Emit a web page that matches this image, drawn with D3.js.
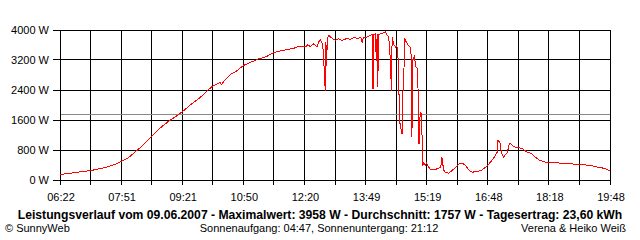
<!DOCTYPE html>
<html>
<head>
<meta charset="utf-8">
<script src="https://cdn.jsdelivr.net/npm/d3@7"></script>
<style>
  html, body { margin: 0; padding: 0; background: #fff; }
  svg { display: block; }
  text { font-family: "Liberation Sans", Arial, sans-serif; fill: #000; }
</style>
</head>
<body>
<svg id="chart" width="640" height="240"></svg>
<script>
const times = ["06:22","06:44","07:07","07:28","07:43","07:51","08:02","08:12","08:19","08:28","08:37","08:49","08:59","09:11","09:21","09:33","09:43","09:50","09:53","09:56","10:06","10:16","10:18","10:21","10:31","10:41","10:50","11:00","11:12","11:24","11:34","11:44","11:55","12:03","12:09","12:17","12:22","12:24","12:28","12:33","12:38","12:40","12:43","12:46","12:47","12:50","12:51","12:52","12:53","12:55","13:00","13:05","13:09","13:15","13:22","13:27","13:32","13:37","13:42","13:44","13:46","13:51","13:56","13:59","14:00","14:01","14:03","14:05","14:06","14:07","14:08","14:11","14:15","14:18","14:20","14:23","14:25","14:27","14:28","14:30","14:33","14:35","14:37","14:39","14:40","14:42","14:43","14:44","14:45","14:46","14:50","14:52","14:55","14:56","14:57","14:58","15:01","15:02","15:05","15:06","15:07","15:08","15:09","15:11","15:12","15:13","15:14","15:17","15:18","15:22","15:24","15:29","15:34","15:39","15:40","15:41","15:42","15:44","15:46","15:51","15:56","16:01","16:06","16:11","16:16","16:20","16:25","16:33","16:40","16:45","16:50","16:55","17:00","17:02","17:03","17:04","17:06","17:08","17:11","17:13","17:17","17:19","17:21","17:24","17:29","17:34","17:39","17:46","17:53","17:58","18:03","18:08","18:13","18:25","18:35","18:40","18:49","19:04","19:19","19:29","19:38","19:44","19:48"];
const watts = [160,213,267,347,440,507,613,773,880,1040,1200,1413,1560,1707,1840,2027,2160,2267,2310,2380,2530,2613,2560,2640,2827,2933,3067,3147,3240,3307,3405,3453,3493,3520,3560,3587,3560,3620,3573,3645,3555,3688,3760,3627,3467,2400,3680,3067,3787,3867,3795,3733,3780,3733,3795,3760,3822,3780,3822,3688,3813,3822,3867,3893,2445,3893,3907,3200,3907,2488,3893,3912,3933,3958,3893,3822,3333,2400,3822,3645,3555,3600,3200,1520,1520,1253,1253,2480,2480,3787,3653,3600,3547,3280,1147,3200,3333,3040,2987,2400,987,987,1813,1787,1067,400,480,400,480,347,293,285,312,355,461,621,453,267,221,195,267,355,445,461,400,285,221,240,285,355,445,552,693,755,1085,1040,1021,755,621,667,755,933,995,933,888,872,845,755,712,621,552,515,488,488,461,445,445,427,400,355,328,285,240];

const xTickLabels = ["06:22","07:51","09:21","10:50","12:20","13:49","15:19","16:48","18:18","19:48"];
const yTickValues = [0, 800, 1600, 2400, 3200, 4000];
const averageWatts = 1757;
const titleText = "Leistungsverlauf vom 09.06.2007 - Maximalwert: 3958 W - Durchschnitt: 1757 W - Tagesertrag: 23,60 kWh";
const footerLeft = "\u00A9 SunnyWeb";
const footerMid = "Sonnenaufgang: 04:47, Sonnenuntergang: 21:12";
const footerRight = "Verena & Heiko Wei\u00DF";

const toMin = s => { const [h, m] = s.split(":").map(Number); return h * 60 + m; };

const svg = d3.select("#chart");
const pLeft = 60, pRight = 610, pTop = 30, pBottom = 180;

const x = d3.scaleLinear().domain([toMin(xTickLabels[0]), toMin(xTickLabels[xTickLabels.length - 1])]).range([pLeft, pRight]);
const y = d3.scaleLinear().domain([0, 4000]).range([pBottom, pTop]);
const px = v => Math.floor(v) + 0.5;

const majors = xTickLabels.map(toMin);
const gridTimes = [];
majors.forEach((m, i) => {
  gridTimes.push(m);
  if (i < majors.length - 1) gridTimes.push((m + majors[i + 1]) / 2);
});
const gridX = gridTimes.map((t, i) => pLeft + i * (pRight - pLeft) / (gridTimes.length - 1));

const g = svg.append("g").attr("shape-rendering", "crispEdges");

g.selectAll("line.h").data(yTickValues).enter().append("line")
  .attr("x1", 53).attr("x2", pRight + 1)
  .attr("y1", d => px(y(d))).attr("y2", d => px(y(d)))
  .attr("stroke", "#000").attr("stroke-width", 1);

g.selectAll("line.v").data(gridX).enter().append("line")
  .attr("x1", d => px(d)).attr("x2", d => px(d))
  .attr("y1", pTop).attr("y2", pBottom + 5)
  .attr("stroke", "#000").attr("stroke-width", 1);

g.append("line")
  .attr("x1", pLeft + 1).attr("x2", pRight)
  .attr("y1", px(y(averageWatts))).attr("y2", px(y(averageWatts)))
  .attr("stroke", "#888").attr("stroke-width", 1);

const data = times.map((t, i) => ({ t: toMin(t), w: watts[i] }));
const line = d3.line().x(d => x(d.t) + 0.5).y(d => y(d.w) + 0.5);
svg.append("path").datum(data)
  .attr("d", line)
  .attr("fill", "none").attr("stroke", "#ff0000").attr("stroke-width", 1)
  .attr("shape-rendering", "crispEdges");

svg.selectAll("text.yl").data(yTickValues).enter().append("text")
  .attr("x", 49).attr("y", d => y(d) + 4)
  .attr("text-anchor", "end").attr("font-size", 11)
  .text(d => d + " W");

svg.selectAll("text.xl").data(xTickLabels).enter().append("text")
  .attr("x", (d, i) => gridX[i * 2] + 1).attr("y", 201)
  .attr("text-anchor", "middle").attr("font-size", 11)
  .text(d => d);

const title = svg.append("text")
  .attr("x", 320).attr("y", 218.5)
  .attr("text-anchor", "middle").attr("font-size", 12).attr("font-weight", "bold")
  .text(titleText);
const tw = title.node().getComputedTextLength();
title.attr("font-size", 12 * 605 / tw);

svg.append("text").attr("x", 5).attr("y", 232).attr("font-size", 11).text(footerLeft);
svg.append("text").attr("x", 319).attr("y", 232).attr("font-size", 11).attr("text-anchor", "middle").text(footerMid);
svg.append("text").attr("x", 626).attr("y", 232).attr("font-size", 11).attr("text-anchor", "end").text(footerRight);
</script>
</body>
</html>
